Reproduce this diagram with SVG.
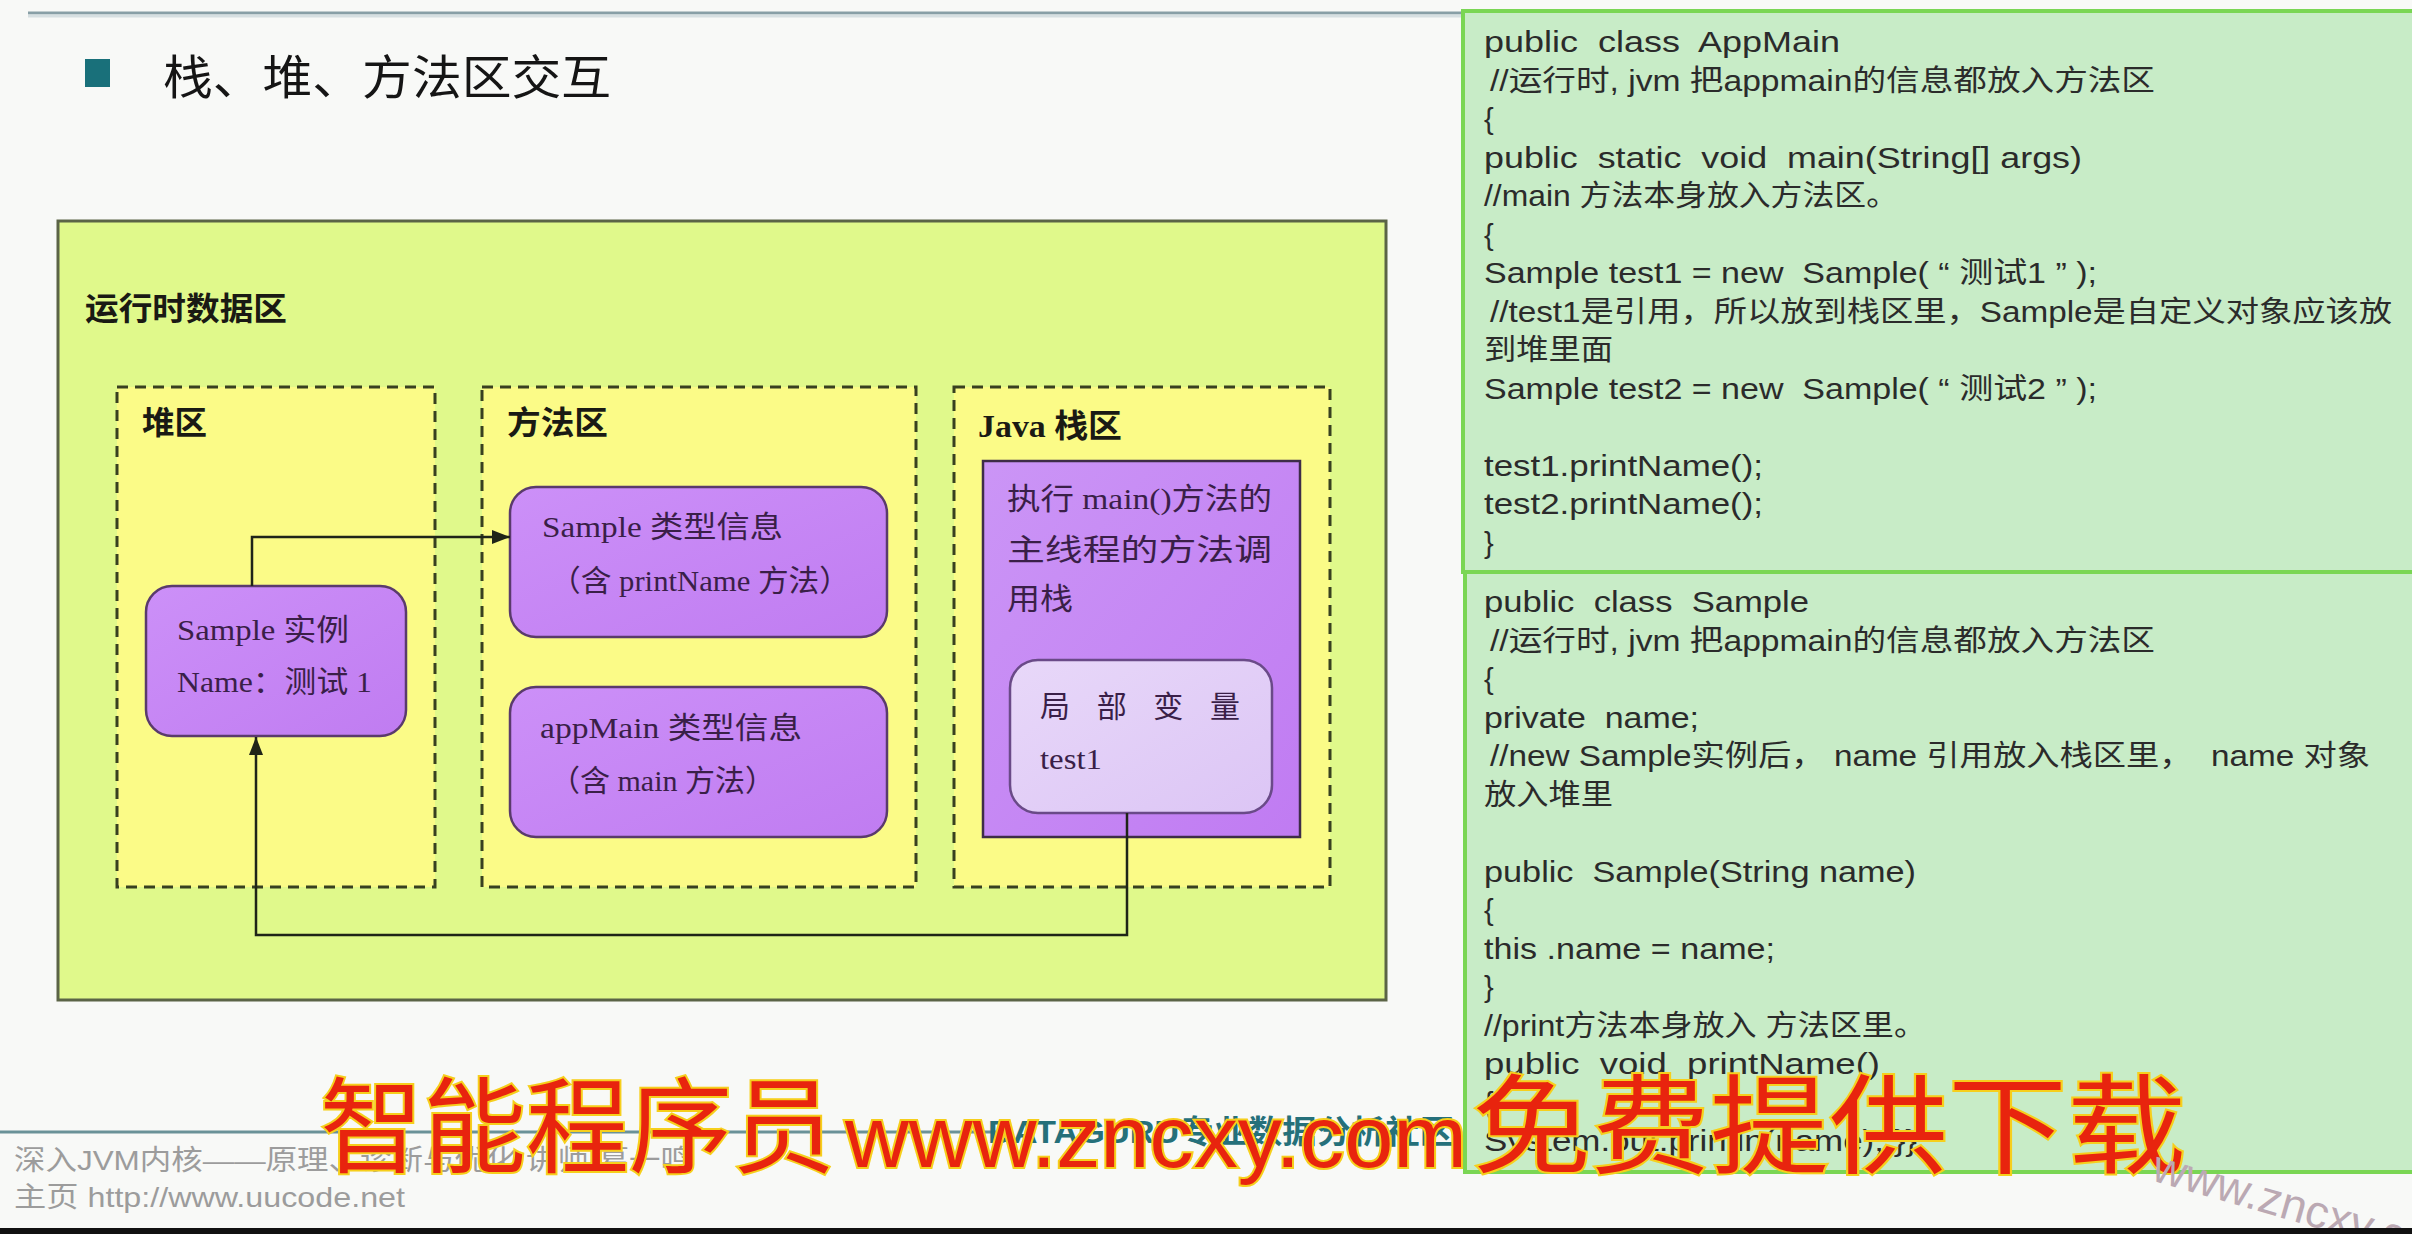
<svg xmlns="http://www.w3.org/2000/svg" width="2412" height="1234" viewBox="0 0 2412 1234">
  <defs>
    <linearGradient id="gPurple" x1="0" y1="0" x2="1" y2="1">
      <stop offset="0" stop-color="#cc90f8"/>
      <stop offset="1" stop-color="#c07cf1"/>
    </linearGradient>
    <linearGradient id="gStack" x1="0" y1="0" x2="1" y2="1">
      <stop offset="0" stop-color="#cb95f6"/>
      <stop offset="1" stop-color="#c07bf2"/>
    </linearGradient>
    <linearGradient id="gLocal" x1="0" y1="0" x2="1" y2="1">
      <stop offset="0" stop-color="#e8d8f9"/>
      <stop offset="1" stop-color="#dcc5f5"/>
    </linearGradient>
    <marker id="arrow" markerUnits="userSpaceOnUse" markerWidth="18" markerHeight="14" refX="18" refY="7" orient="auto">
      <path d="M0,0 L18,7 L0,14 z" fill="#1f2418"/>
    </marker>
    <style>
      .bg { fill: #f8f9f7; }
      .runtime { fill: #e0f98b; stroke: #5b6446; stroke-width: 3; }
      .area { fill: #fbfb87; stroke: #384020; stroke-width: 3; stroke-dasharray: 11 7; }
      .pbox { fill: url(#gPurple); stroke: #5a3a6c; stroke-width: 2.5; }
      .stack { fill: url(#gStack); stroke: #3e2c48; stroke-width: 2.5; }
      .local { fill: url(#gLocal); stroke: #6a4a88; stroke-width: 2.5; }
      .label { font-family: "Liberation Serif", "Noto Sans CJK SC", serif; font-weight: bold; font-size: 32px; fill: #1a1a14; }
      .boxtxt { font-family: "Liberation Serif", "Noto Sans CJK SC", serif; font-size: 30px; fill: #3a1f48; }
      .code { font-family: "Liberation Sans", "Noto Sans CJK SC", sans-serif; font-size: 29px; fill: #2b2b2b; white-space: pre; }
      .panel { fill: #c8ecc7; stroke: #7ad654; stroke-width: 4; }
      .conn { fill: none; stroke: #1f2418; stroke-width: 2.5; }
      .footer { font-family: "Liberation Sans", "Noto Sans CJK SC", sans-serif; font-size: 28px; fill: #9c9c9c; }
      .wm { font-family: "Liberation Sans", "Noto Sans CJK SC", sans-serif; fill: #e8240e; stroke: #f6cf1c; stroke-width: 4; paint-order: stroke; }
    </style>
  </defs>

  <!-- page -->
  <rect class="bg" x="0" y="0" width="2412" height="1234"/>
  <line x1="28" y1="13" x2="1462" y2="13" stroke="#889fa6" stroke-width="3"/>
  <line x1="28" y1="16" x2="1462" y2="16" stroke="#d6dfe1" stroke-width="3"/>

  <!-- heading -->
  <g id="heading">
    <rect x="85" y="59" width="25" height="28" fill="#19707a"/>
    <text x="163" y="94" font-family="'Noto Sans CJK SC', sans-serif" font-size="47" fill="#151515" textLength="448" lengthAdjust="spacingAndGlyphs">栈、堆、方法区交互</text>
  </g>

  <!-- runtime data area -->
  <g id="runtime-area">
    <rect class="runtime" x="58" y="221" width="1328" height="779"/>
    <text class="label" x="85" y="320" font-size="34" textLength="202" lengthAdjust="spacingAndGlyphs">运行时数据区</text>
  </g>

  <g id="heap-area">
    <rect class="area" x="117" y="387" width="318" height="500"/>
    <text class="label" x="142" y="434" textLength="65" lengthAdjust="spacingAndGlyphs">堆区</text>
  </g>

  <g id="method-area">
    <rect class="area" x="482" y="387" width="434" height="500"/>
    <text class="label" x="507" y="434" textLength="101" lengthAdjust="spacingAndGlyphs">方法区</text>
  </g>

  <g id="stack-area">
    <rect class="area" x="954" y="387" width="376" height="500"/>
    <text class="label" x="978" y="437" textLength="144" lengthAdjust="spacingAndGlyphs">Java 栈区</text>
  </g>

  <g id="sample-instance">
    <rect class="pbox" x="146" y="586" width="260" height="150" rx="26"/>
    <text class="boxtxt" x="177" y="640" textLength="172" lengthAdjust="spacingAndGlyphs">Sample 实例</text>
    <text class="boxtxt" x="177" y="692" textLength="195" lengthAdjust="spacingAndGlyphs">Name：测试 1</text>
  </g>

  <g id="sample-type">
    <rect class="pbox" x="510" y="487" width="377" height="150" rx="26"/>
    <text class="boxtxt" x="542" y="537" textLength="241" lengthAdjust="spacingAndGlyphs">Sample 类型信息</text>
    <text class="boxtxt" x="550" y="591" textLength="300" lengthAdjust="spacingAndGlyphs">（含 printName 方法）</text>
  </g>

  <g id="appmain-type">
    <rect class="pbox" x="510" y="687" width="377" height="150" rx="26"/>
    <text class="boxtxt" x="540" y="738" textLength="262" lengthAdjust="spacingAndGlyphs">appMain 类型信息</text>
    <text class="boxtxt" x="550" y="791" textLength="225" lengthAdjust="spacingAndGlyphs">（含 main 方法）</text>
  </g>

  <g id="main-thread-stack">
    <rect class="stack" x="983" y="461" width="317" height="376"/>
    <text class="boxtxt" x="1007" y="509" textLength="265" lengthAdjust="spacingAndGlyphs">执行 main()方法的</text>
    <text class="boxtxt" x="1007" y="560" textLength="265" lengthAdjust="spacingAndGlyphs">主线程的方法调</text>
    <text class="boxtxt" x="1007" y="609" textLength="66" lengthAdjust="spacingAndGlyphs">用栈</text>
  </g>

  <g id="local-vars">
    <rect class="local" x="1010" y="660" width="262" height="153" rx="28"/>
    <text class="boxtxt" x="1040" y="717" textLength="200" lengthAdjust="spacing">局部变量</text>
    <text class="boxtxt" x="1040" y="769" textLength="62" lengthAdjust="spacingAndGlyphs">test1</text>
  </g>

  <!-- references between the areas -->
  <g id="connectors">
    <path class="conn" d="M252,586 V537 H510" marker-end="url(#arrow)"/>
    <path class="conn" d="M1127,813 V935 H256 V737" marker-end="url(#arrow)"/>
  </g>

  <!-- source listing: AppMain -->
  <g id="code-appmain">
    <rect class="panel" x="1463" y="11" width="960" height="561"/>
    <text class="code" x="1484" y="52" textLength="356" lengthAdjust="spacingAndGlyphs">public  class  AppMain</text>
    <text class="code" x="1490" y="90.5" textLength="665" lengthAdjust="spacingAndGlyphs">//运行时, jvm 把appmain的信息都放入方法区</text>
    <text class="code" x="1484" y="129">{</text>
    <text class="code" x="1484" y="167.5" textLength="598" lengthAdjust="spacingAndGlyphs">public  static  void  main(String[] args)</text>
    <text class="code" x="1484" y="206" textLength="414" lengthAdjust="spacingAndGlyphs">//main 方法本身放入方法区。</text>
    <text class="code" x="1484" y="244.5">{</text>
    <text class="code" x="1484" y="283" textLength="613" lengthAdjust="spacingAndGlyphs">Sample test1 = new  Sample( “ 测试1 ” );</text>
    <text class="code" x="1490" y="321.5" textLength="902" lengthAdjust="spacingAndGlyphs">//test1是引用，所以放到栈区里，Sample是自定义对象应该放</text>
    <text class="code" x="1484" y="360" textLength="129" lengthAdjust="spacingAndGlyphs">到堆里面</text>
    <text class="code" x="1484" y="398.5" textLength="613" lengthAdjust="spacingAndGlyphs">Sample test2 = new  Sample( “ 测试2 ” );</text>
    <text class="code" x="1484" y="475.5" textLength="279" lengthAdjust="spacingAndGlyphs">test1.printName();</text>
    <text class="code" x="1484" y="514" textLength="279" lengthAdjust="spacingAndGlyphs">test2.printName();</text>
    <text class="code" x="1484" y="552.5">}</text>
  </g>

  <!-- source listing: Sample -->
  <g id="code-sample">
    <rect class="panel" x="1465" y="572" width="960" height="600"/>
    <text class="code" x="1484" y="612" textLength="325" lengthAdjust="spacingAndGlyphs">public  class  Sample</text>
    <text class="code" x="1490" y="650.5" textLength="665" lengthAdjust="spacingAndGlyphs">//运行时, jvm 把appmain的信息都放入方法区</text>
    <text class="code" x="1484" y="689">{</text>
    <text class="code" x="1484" y="727.5" textLength="215" lengthAdjust="spacingAndGlyphs">private  name;</text>
    <text class="code" x="1490" y="766" textLength="880" lengthAdjust="spacingAndGlyphs">//new Sample实例后， name 引用放入栈区里，  name 对象</text>
    <text class="code" x="1484" y="804.5" textLength="129" lengthAdjust="spacingAndGlyphs">放入堆里</text>
    <text class="code" x="1484" y="881.5" textLength="432" lengthAdjust="spacingAndGlyphs">public  Sample(String name)</text>
    <text class="code" x="1484" y="920">{</text>
    <text class="code" x="1484" y="958.5" textLength="291" lengthAdjust="spacingAndGlyphs">this .name = name;</text>
    <text class="code" x="1484" y="997">}</text>
    <text class="code" x="1484" y="1035.5" textLength="442" lengthAdjust="spacingAndGlyphs">//print方法本身放入 方法区里。</text>
    <text class="code" x="1484" y="1074" textLength="396" lengthAdjust="spacingAndGlyphs">public  void  printName()</text>
    <text class="code" x="1484" y="1112.5">{</text>
    <text class="code" x="1484" y="1151" textLength="433" lengthAdjust="spacingAndGlyphs">System.out.println(name); }}</text>
  </g>

  <!-- slide footer -->
  <g id="footer">
    <line x1="0" y1="1132" x2="1000" y2="1132" stroke="#6a9298" stroke-width="3"/>
    <text x="988" y="1143" font-family="'Liberation Sans', 'Noto Sans CJK SC', sans-serif" font-weight="bold" font-size="32" fill="#25707a" textLength="466" lengthAdjust="spacingAndGlyphs">DATAGURU专业数据分析社区</text>
    <text class="footer" x="14" y="1170" textLength="678" lengthAdjust="spacingAndGlyphs">深入JVM内核——原理、诊断与优化 讲师 葛一鸣</text>
    <text class="footer" x="14" y="1207" textLength="391" lengthAdjust="spacingAndGlyphs">主页 http://www.uucode.net</text>
  </g>

  <!-- overlay lettering -->
  <g id="overlay">
    <text class="wm" x="320" y="1165" font-size="104" textLength="515" lengthAdjust="spacingAndGlyphs">智能程序员</text>
    <text class="wm" x="845" y="1167" font-size="88" textLength="622" lengthAdjust="spacingAndGlyphs">www.zncxy.com</text>
    <text class="wm" x="1472" y="1165" font-size="108" textLength="714" lengthAdjust="spacingAndGlyphs">免费提供下载</text>
    <text x="2150" y="1180" transform="rotate(16 2150 1180)" font-family="'Liberation Sans', sans-serif" font-size="46" fill="#bba9b3">www.zncxy.com</text>
  </g>

  <rect x="0" y="1228" width="2412" height="6" fill="#111111"/>
</svg>
